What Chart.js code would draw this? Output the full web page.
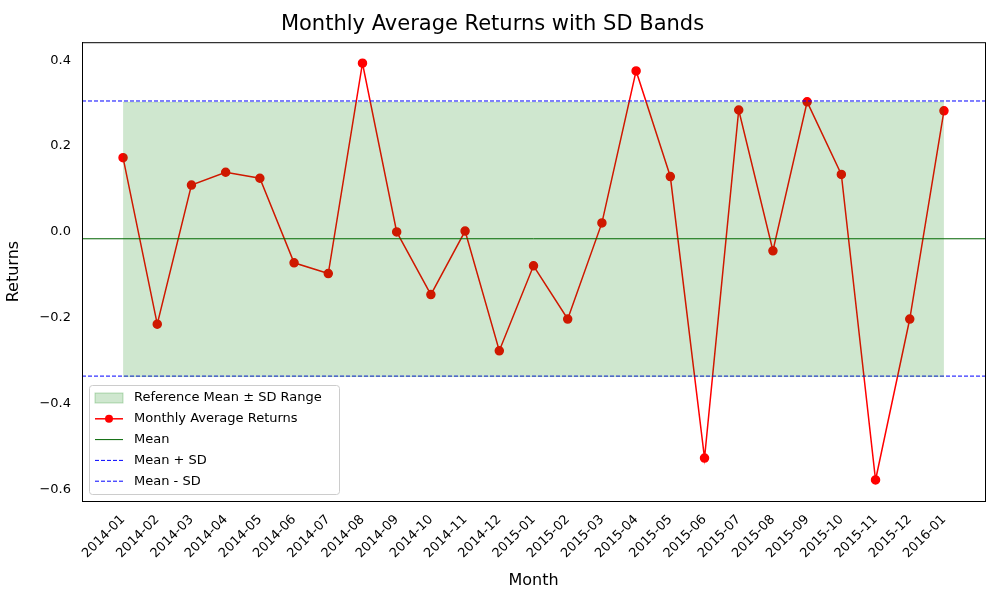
<!DOCTYPE html>
<html>
<head>
<meta charset="utf-8">
<script src="https://cdn.jsdelivr.net/npm/chart.js@4"></script>
<style>
  body { margin: 0; background: #fff; }
  #wrap { width: 1000px; height: 600px; }
</style>
</head>
<body>
<div id="wrap"><canvas id="myChart"></canvas></div>
<script>
// データ
const months = ['2014-01','2014-02','2014-03','2014-04','2014-05','2014-06','2014-07','2014-08','2014-09','2014-10','2014-11','2014-12',
  '2015-01','2015-02','2015-03','2015-04','2015-05','2015-06','2015-07','2015-08','2015-09','2015-10','2015-11','2015-12','2016-01'];
const returns = [0.173,-0.215,0.109,0.139,0.125,-0.072,-0.097,0.393,0.0,-0.146,0.002,-0.277,
  -0.079,-0.203,0.021,0.375,0.129,-0.527,0.284,-0.044,0.303,0.134,-0.578,-0.203,0.282];
const meanValue = -0.016;
const meanPlusSd = 0.305;
const meanMinusSd = -0.336;
const bandTop = 0.302;
const bandBottom = -0.337;
const yTicks = [-0.6,-0.4,-0.2,0.0,0.2,0.4];

const xMin = -1.2, xMax = months.length - 1 + 1.2;
const fullLine = v => [{x: xMin, y: v}, {x: xMax, y: v}];

const legendItems = [
  {label: 'Reference Mean \u00b1 SD Range', type: 'box'},
  {label: 'Monthly Average Returns', type: 'marker'},
  {label: 'Mean', type: 'line', color: '#006400', dash: []},
  {label: 'Mean + SD', type: 'line', color: 'blue', dash: [4, 2]},
  {label: 'Mean - SD', type: 'line', color: 'blue', dash: [4, 2]}
];

// 枠線と凡例をプロット内に描画
const insideLegend = {
  id: 'insideLegend',
  afterDraw(chart) {
    const ctx = chart.ctx;
    const area = chart.chartArea;
    ctx.save();
    ctx.strokeStyle = '#000';
    ctx.lineWidth = 1;
    ctx.strokeRect(area.left + 0.5, area.top + 0.5, area.right - area.left, area.bottom - area.top);

    const x0 = area.left + 7, h = 109, y0 = area.bottom - 7 - h, w = 250;
    ctx.fillStyle = 'rgba(255,255,255,0.8)';
    ctx.strokeStyle = '#ccc';
    ctx.beginPath();
    ctx.roundRect(x0 + 0.5, y0 + 0.5, w, h, 3);
    ctx.fill(); ctx.stroke();
    ctx.font = '13px "DejaVu Sans"';
    ctx.textBaseline = 'middle';
    legendItems.forEach((it, i) => {
      const cy = y0 + 13 + i * 20.8;
      const lx = x0 + 6;
      if (it.type === 'box') {
        ctx.fillStyle = 'rgba(0,128,0,0.19)';
        ctx.strokeStyle = 'rgba(0,128,0,0.25)';
        ctx.fillRect(lx, cy - 5, 28, 10);
        ctx.strokeRect(lx, cy - 5, 28, 10);
      } else if (it.type === 'marker') {
        ctx.strokeStyle = 'red'; ctx.lineWidth = 1.5; ctx.setLineDash([]);
        ctx.beginPath(); ctx.moveTo(lx, cy); ctx.lineTo(lx + 28, cy); ctx.stroke();
        ctx.fillStyle = 'red';
        ctx.beginPath(); ctx.arc(lx + 14, cy, 4, 0, Math.PI * 2); ctx.fill();
      } else {
        ctx.strokeStyle = it.color; ctx.lineWidth = 1; ctx.setLineDash(it.dash);
        ctx.beginPath(); ctx.moveTo(lx, cy); ctx.lineTo(lx + 28, cy); ctx.stroke();
        ctx.setLineDash([]);
      }
      ctx.fillStyle = '#000';
      ctx.fillText(it.label, lx + 39, cy);
    });
    ctx.restore();
  }
};

const ctx = document.getElementById('myChart').getContext('2d');
new Chart(ctx, {
  type: 'line',
  data: {
    datasets: [
      {label: 'bandTop', data: months.map((m, i) => ({x: i, y: bandTop})), borderWidth: 0.8,
        borderColor: 'rgba(0,128,0,0.2)', pointRadius: 0, fill: '+1', backgroundColor: 'rgba(0,128,0,0.19)'},
      {label: 'bandBottom', data: months.map((m, i) => ({x: i, y: bandBottom})), borderWidth: 0.8,
        borderColor: 'rgba(0,128,0,0.2)', pointRadius: 0, fill: false},
      {label: 'Mean', data: fullLine(meanValue), borderColor: '#006400', borderWidth: 1, pointRadius: 0},
      {label: 'Mean + SD', data: fullLine(meanPlusSd), borderColor: 'blue', borderWidth: 1, borderDash: [4, 2], pointRadius: 0},
      {label: 'Mean - SD', data: fullLine(meanMinusSd), borderColor: 'blue', borderWidth: 1, borderDash: [4, 2], pointRadius: 0},
      {label: 'Monthly Average Returns', data: returns.map((v, i) => ({x: i, y: v})), borderColor: 'red',
        backgroundColor: 'red', pointBorderColor: 'red', pointBackgroundColor: 'red',
        borderWidth: 1.5, pointRadius: 4, pointHoverRadius: 4}
    ]
  },
  plugins: [insideLegend],
  options: {
    responsive: true,
    maintainAspectRatio: false,
    animation: false,
    layout: {padding: {left: 0, right: 15, top: 0, bottom: 10}},
    plugins: {
      legend: {display: false},
      tooltip: {enabled: false},
      title: {display: true, text: 'Monthly Average Returns with SD Bands', color: '#000',
        font: {size: 21, family: 'DejaVu Sans', weight: 'normal'}, padding: {top: 12, bottom: 5}}
    },
    scales: {
      x: {
        type: 'linear', min: xMin, max: xMax,
        afterBuildTicks: axis => { axis.ticks = months.map((m, i) => ({value: i})); },
        afterFit: axis => { axis.height = 89; },
        grid: {display: false},
        border: {color: '#000'},
        ticks: {color: '#000', font: {size: 13, family: 'DejaVu Sans'}, maxRotation: 45, minRotation: 45,
          autoSkip: false, callback: v => months[v]},
        title: {display: true, text: 'Month', color: '#000', font: {size: 16, family: 'DejaVu Sans'}, padding: {top: 0, bottom: 0}}
      },
      y: {
        min: -0.627, max: 0.442,
        afterBuildTicks: axis => { axis.ticks = yTicks.map(v => ({value: v})); },
        afterFit: axis => { axis.width = 82; },
        grid: {display: false},
        border: {color: '#000'},
        ticks: {color: '#000', font: {size: 13, family: 'DejaVu Sans'},
          callback: v => (v < 0 ? '\u2212' : '') + Math.abs(v).toFixed(1)},
        title: {display: true, text: 'Returns', color: '#000', font: {size: 16, family: 'DejaVu Sans'}}
      }
    }
  }
});
</script>
</body>
</html>
